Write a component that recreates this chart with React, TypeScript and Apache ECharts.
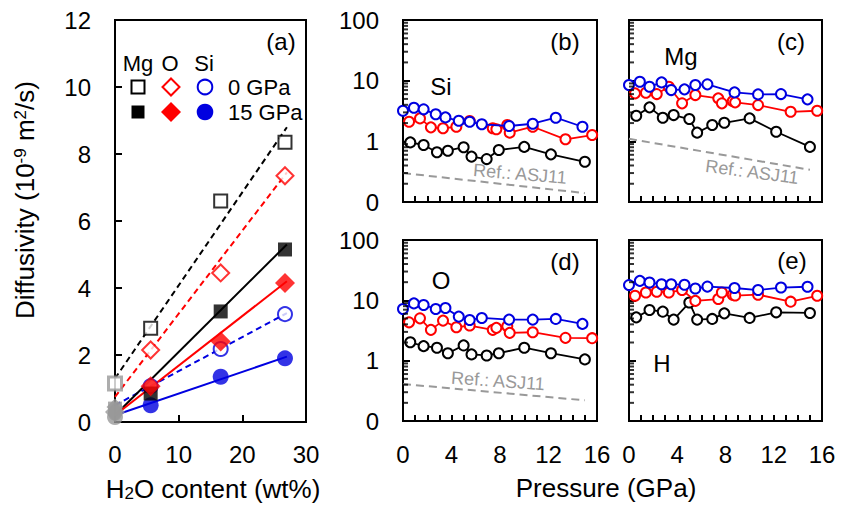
import React, { useEffect, useRef } from "react";
import * as echarts from "echarts";

// ---------- Panel (a): diffusivity vs H2O content ----------
const h2oContent = [0, 5.6, 16.6, 26.7];
const mg0 = [1.15, 2.8, 6.6, 8.35];
const mg15 = [0.4, 0.85, 3.3, 5.15];
const o0 = [0.45, 2.15, 4.45, 7.35];
const o15 = [0.3, 1.07, 2.4, 4.15];
const si0 = [0.25, 1.07, 2.18, 3.22];
const si15 = [0.15, 0.5, 1.35, 1.9];

// linear fits (two end points each)
const fitX = [0, 27];
const fitMg0 = [1.3, 8.8];
const fitO0 = [0.75, 7.45];
const fitSi0 = [0.5, 3.25];
const fitMg15 = [0.2, 5.3];
const fitO15 = [0.2, 4.2];
const fitSi15 = [0.2, 1.95];

const xTicksA = [0, 10, 20, 30];
const yTicksA = [0, 2, 4, 6, 8, 10, 12];

// ---------- Panels (b)-(e): diffusivity vs pressure ----------
const pressureBlack = [0.6, 1.7, 2.8, 3.7, 5.0, 5.65, 6.9, 7.9, 10.0, 12.2, 15.0];
const pressureRed = [0.5, 1.4, 2.3, 3.3, 4.4, 5.5, 7.4, 7.7, 8.6, 8.8, 10.7, 13.4, 15.6];
const pressureBlue = [0, 0.9, 1.7, 2.7, 3.5, 4.6, 5.5, 6.5, 8.75, 10.7, 12.6, 14.8];

const siBlack = [0.96, 0.87, 0.66, 0.7, 0.8, 0.56, 0.51, 0.72, 0.81, 0.61, 0.46];
const siRed = [2.1, 2.39, 1.7, 1.64, 1.74, 2.16, 1.64, 1.58, 1.86, 1.39, 1.74, 1.08, 1.27];
const siBlue = [3.19, 3.58, 3.37, 2.79, 2.48, 2.18, 2.1, 1.91, 1.79, 1.95, 2.45, 1.74];

const mgBlack = [2.64, 3.63, 2.45, 2.71, 2.33, 1.39, 1.86, 2.02, 2.39, 1.44, 0.81];
const mgRed = [6.18, 6.33, 6.01, 7.94, 4.23, 5.79, 5.11, 4.23, 4.6, 4.39, 3.96, 3.07, 3.19];
const mgBlue = [8.47, 9.6, 7.94, 9.37, 7.0, 7.19, 8.47, 8.7, 6.41, 5.94, 6.01, 4.92];

const oBlack = [2.02, 1.74, 1.64, 1.33, 1.79, 1.27, 1.22, 1.33, 1.64, 1.33, 1.05];
const oRed = [4.32, 5.03, 3.24, 4.61, 3.58, 3.82, 3.24, 3.5, 3.72, 2.89, 2.96, 2.39, 2.36];
const oBlue = [7.19, 8.9, 8.37, 7.19, 7.46, 5.37, 4.73, 5.1, 4.79, 4.79, 4.92, 4.07];

const hBlack = [5.22, 6.92, 6.49, 4.79, 9.2, 4.79, 4.92, 6.08, 5.11, 6.33, 6.18];
const hRed = [11.9, 13.5, 13.9, 13.5, 14.8, 9.8, 10.5, 13.5, 12.4, 12.0, 12.4, 9.5, 11.9];
const hBlue = [17.9, 21.0, 19.7, 18.5, 18.5, 18.1, 15.7, 16.9, 16.0, 14.8, 16.3, 16.8];

// reference (ASJ11) dashed lines
const refPressure = [0, 15];
const refSi = [0.3, 0.14];
const refMg = [1.1, 0.34];
const refO = [0.41, 0.22];

const xTicksP = [0, 4, 8, 12, 16];
const yTicksLog = [0.1, 1, 10, 100];
const minorLog = [
  0.2, 0.3, 0.4, 0.5, 0.6, 0.7, 0.8, 0.9,
  2, 3, 4, 5, 6, 7, 8, 9,
  20, 30, 40, 50, 60, 70, 80, 90,
];

const FONT = '"Liberation Sans", Arial, Helvetica, sans-serif';
const BLACK = "#000000";
const RED = "#ff0000";
const BLUE = "#0000e0";
const GRAY = "#999999";

const zip = (xs: number[], ys: number[]) => ys.map((y, i) => [xs[i], y]);

export default function App() {
  const ref = useRef<HTMLDivElement>(null);

  useEffect(() => {
    document.body.style.margin = "0";
    if (!ref.current) return;
    const chart = echarts.init(ref.current, null, { renderer: "svg" });

    const grids = [
      { left: 115, top: 20, width: 191, height: 402 },
      { left: 403, top: 20, width: 194, height: 182 },
      { left: 629, top: 20, width: 193, height: 182 },
      { left: 403, top: 240, width: 194, height: 181 },
      { left: 629, top: 240, width: 193, height: 181 },
    ].map((g) => ({
      ...g,
      show: true,
      borderColor: BLACK,
      borderWidth: 2,
      backgroundColor: "transparent",
      containLabel: false,
      outerBoundsMode: "none",
    }));

    const axisLine = { show: true, lineStyle: { color: BLACK, width: 2 } };
    const labelBase = { color: BLACK, fontSize: 24, fontFamily: FONT };

    const xAxes: any[] = [
      {
        type: "value",
        gridIndex: 0,
        min: xTicksA[0],
        max: xTicksA[xTicksA.length - 1],
        interval: 10,
        axisLine,
        axisTick: { show: true, inside: true, length: 7, lineStyle: { color: BLACK, width: 2 } },
        axisLabel: { ...labelBase, margin: 20 },
        splitLine: { show: false },
      },
    ];
    const yAxes: any[] = [
      {
        type: "value",
        gridIndex: 0,
        min: yTicksA[0],
        max: yTicksA[yTicksA.length - 1],
        interval: 2,
        axisLine,
        axisTick: { show: true, inside: true, length: 7, lineStyle: { color: BLACK, width: 2 } },
        axisLabel: { ...labelBase, margin: 24 },
        splitLine: { show: false },
      },
    ];
    for (let k = 1; k <= 4; k++) {
      const bottomRow = k >= 3;
      const leftCol = k === 1 || k === 3;
      xAxes.push({
        type: "value",
        gridIndex: k,
        min: xTicksP[0],
        max: xTicksP[xTicksP.length - 1],
        interval: 4,
        axisLine,
        axisTick: { show: true, inside: true, length: 6, lineStyle: { color: BLACK, width: 2 } },
        minorTick: { show: true, splitNumber: 4, length: 6, lineStyle: { color: BLACK, width: 2 } },
        axisLabel: { ...labelBase, show: bottomRow, margin: 21 },
        splitLine: { show: false },
      });
      yAxes.push({
        type: "log",
        logBase: 10,
        gridIndex: k,
        min: yTicksLog[0],
        max: yTicksLog[yTicksLog.length - 1],
        axisLine,
        axisTick: { show: true, inside: true, length: 7, lineStyle: { color: BLACK, width: 2 } },
        axisLabel: {
          ...labelBase,
          show: leftCol,
          margin: 24,
          formatter: (v: number) => (v < 0.5 ? "0" : String(Math.round(v))),
        },
        splitLine: { show: false },
      });
    }

    const series: any[] = [];

    // ---- panel (a) fit lines
    const fitLine = (ys: number[], color: string, dashed: boolean) => ({
      type: "line",
      xAxisIndex: 0,
      yAxisIndex: 0,
      data: zip(fitX, ys),
      symbol: "none",
      silent: true,
      clip: false,
      lineStyle: { color, width: 2, type: dashed ? [6, 4] : "solid" },
      z: 2,
    });
    series.push(
      fitLine(fitSi0, BLUE, true),
      fitLine(fitSi15, BLUE, false),
      fitLine(fitMg0, BLACK, true),
      fitLine(fitMg15, BLACK, false),
      fitLine(fitO0, RED, true),
      fitLine(fitO15, RED, false)
    );

    // ---- panel (a) markers
    const markers = (
      name: string,
      ys: number[],
      symbol: string,
      size: number,
      color: string,
      open: boolean
    ) => ({
      name,
      type: "scatter",
      xAxisIndex: 0,
      yAxisIndex: 0,
      symbol,
      symbolSize: size,
      clip: false,
      z: 3,
      data: ys.map((y, i) => {
        const item: any = { value: [h2oContent[i], y] };
        if (i === 0) {
          item.itemStyle = open && symbol === "rect"
            ? { color: "#ffffff", borderColor: GRAY, borderWidth: 3 }
            : { color: GRAY, borderColor: GRAY, borderWidth: 0 };
        }
        return item;
      }),
      itemStyle: open
        ? { color: "#ffffff", borderColor: color, borderWidth: 2 }
        : { color, borderColor: color, borderWidth: 0 },
    });
    series.push(
      markers("Si 0 GPa", si0, "circle", 14, BLUE, true),
      markers("Si 15 GPa", si15, "circle", 16, BLUE, false),
      markers("Mg 0 GPa", mg0, "rect", 13, BLACK, true),
      markers("Mg 15 GPa", mg15, "rect", 14, BLACK, false),
      markers("O 0 GPa", o0, "diamond", 17, RED, true),
      markers("O 15 GPa", o15, "diamond", 20, RED, false)
    );

    // ---- panels (b)-(e)
    const panels = [
      { k: 1, black: siBlack, red: siRed, blue: siBlue, refV: refSi },
      { k: 2, black: mgBlack, red: mgRed, blue: mgBlue, refV: refMg },
      { k: 3, black: oBlack, red: oRed, blue: oBlue, refV: refO },
      { k: 4, black: hBlack, red: hRed, blue: hBlue, refV: null as number[] | null },
    ];
    const circLine = (k: number, xs: number[], ys: number[], color: string, z: number) => ({
      type: "line",
      xAxisIndex: k,
      yAxisIndex: k,
      data: zip(xs, ys),
      symbol: "circle",
      symbolSize: 10,
      showSymbol: true,
      clip: false,
      z,
      lineStyle: { color, width: 1.8 },
      itemStyle: { color: "#ffffff", borderColor: color, borderWidth: 2 },
    });
    panels.forEach((p) => {
      if (p.refV) {
        series.push({
          type: "line",
          xAxisIndex: p.k,
          yAxisIndex: p.k,
          data: zip(refPressure, p.refV),
          symbol: "none",
          silent: true,
          lineStyle: { color: GRAY, width: 2, type: [8, 5] },
          z: 2,
        });
      }
      series.push(
        circLine(p.k, pressureBlack, p.black, BLACK, 3),
        circLine(p.k, pressureRed, p.red, RED, 4),
        circLine(p.k, pressureBlue, p.blue, BLUE, 5)
      );
      // logarithmic minor ticks on the left axis (short bars placed by the log scale)
      series.push({
        type: "scatter",
        xAxisIndex: p.k,
        yAxisIndex: p.k,
        silent: true,
        clip: false,
        z: 6,
        symbol: "rect",
        symbolSize: [5, 2],
        symbolOffset: [2.5, 0],
        itemStyle: { color: BLACK, borderWidth: 0 },
        data: minorLog.map((v) => [xTicksP[0], v]),
      });
    });

    const txt = (
      text: string,
      x: number,
      y: number,
      size: number,
      extra: any = {},
      styleExtra: any = {}
    ) => ({
      type: "text",
      x,
      y,
      silent: true,
      z: 10,
      ...extra,
      style: {
        text,
        fill: BLACK,
        fontSize: size,
        fontFamily: FONT,
        align: "center",
        verticalAlign: "middle",
        ...styleExtra,
      },
    });

    const graphic: any[] = [
      // panel labels
      txt("(a)", 281, 41, 24),
      txt("(b)", 565, 41, 24),
      txt("(c)", 791, 41, 24),
      txt("(d)", 565, 261, 24),
      txt("(e)", 792, 260, 24),
      // element labels
      txt("Si", 441, 86, 24),
      txt("Mg", 681, 56, 24),
      txt("O", 441, 280, 24),
      txt("H", 662, 363, 24),
      // reference labels
      txt("Ref.: ASJ11", 520, 174, 18, { rotation: -0.085 }, { fill: GRAY }),
      txt("Ref.: ASJ11", 752, 172, 18, { rotation: -0.13 }, { fill: GRAY }),
      txt("Ref.: ASJ11", 498, 381, 18, { rotation: -0.07 }, { fill: GRAY }),
      // legend of (a)
      txt("Mg", 138, 63, 22),
      txt("O", 170, 63, 22),
      txt("Si", 204, 63, 22),
      txt("0 GPa", 228, 87, 22, {}, { align: "left" }),
      txt("15 GPa", 228, 112, 22, {}, { align: "left" }),
      {
        type: "rect",
        silent: true,
        shape: { x: 131.5, y: 80.5, width: 13, height: 13 },
        style: { fill: "#ffffff", stroke: BLACK, lineWidth: 2 },
      },
      {
        type: "rect",
        silent: true,
        shape: { x: 131.5, y: 105.5, width: 13, height: 13 },
        style: { fill: BLACK, stroke: BLACK, lineWidth: 0 },
      },
      {
        type: "polygon",
        silent: true,
        shape: { points: [[171, 78.5], [179.5, 87], [171, 95.5], [162.5, 87]] },
        style: { fill: "#ffffff", stroke: RED, lineWidth: 2 },
      },
      {
        type: "polygon",
        silent: true,
        shape: { points: [[171, 102], [181, 112], [171, 122], [161, 112]] },
        style: { fill: RED, stroke: RED, lineWidth: 0 },
      },
      {
        type: "circle",
        silent: true,
        shape: { cx: 205, cy: 87, r: 7.3 },
        style: { fill: "#ffffff", stroke: BLUE, lineWidth: 2 },
      },
      {
        type: "circle",
        silent: true,
        shape: { cx: 205, cy: 112, r: 8.3 },
        style: { fill: BLUE, stroke: BLUE, lineWidth: 0 },
      },
      // axis titles
      txt("{a|H}{b|2}{a|O content (wt%)}", 213, 489, 26, {}, {
        rich: {
          a: { fontSize: 26, fontFamily: FONT, fill: BLACK },
          b: { fontSize: 17, fontFamily: FONT, fill: BLACK, verticalAlign: "bottom", padding: [8, 0, 0, 0] },
        },
      }),
      txt("Pressure (GPa)", 606, 488, 26),
      txt("{a|Diffusivity (10}{s|-9}{a| m}{s|2}{a|/s)}", 25, 200, 26, { rotation: Math.PI / 2 }, {
        rich: {
          a: { fontSize: 26, fontFamily: FONT, fill: BLACK },
          s: { fontSize: 17, fontFamily: FONT, fill: BLACK, verticalAlign: "top", padding: [0, 0, 8, 0] },
        },
      }),
    ];

    chart.setOption({
      animation: false,
      backgroundColor: "#ffffff",
      textStyle: { fontFamily: FONT },
      grid: grids,
      xAxis: xAxes,
      yAxis: yAxes,
      series,
      graphic,
    });

    return () => chart.dispose();
  }, []);

  return <div ref={ref} style={{ width: 844, height: 508 }} />;
}
